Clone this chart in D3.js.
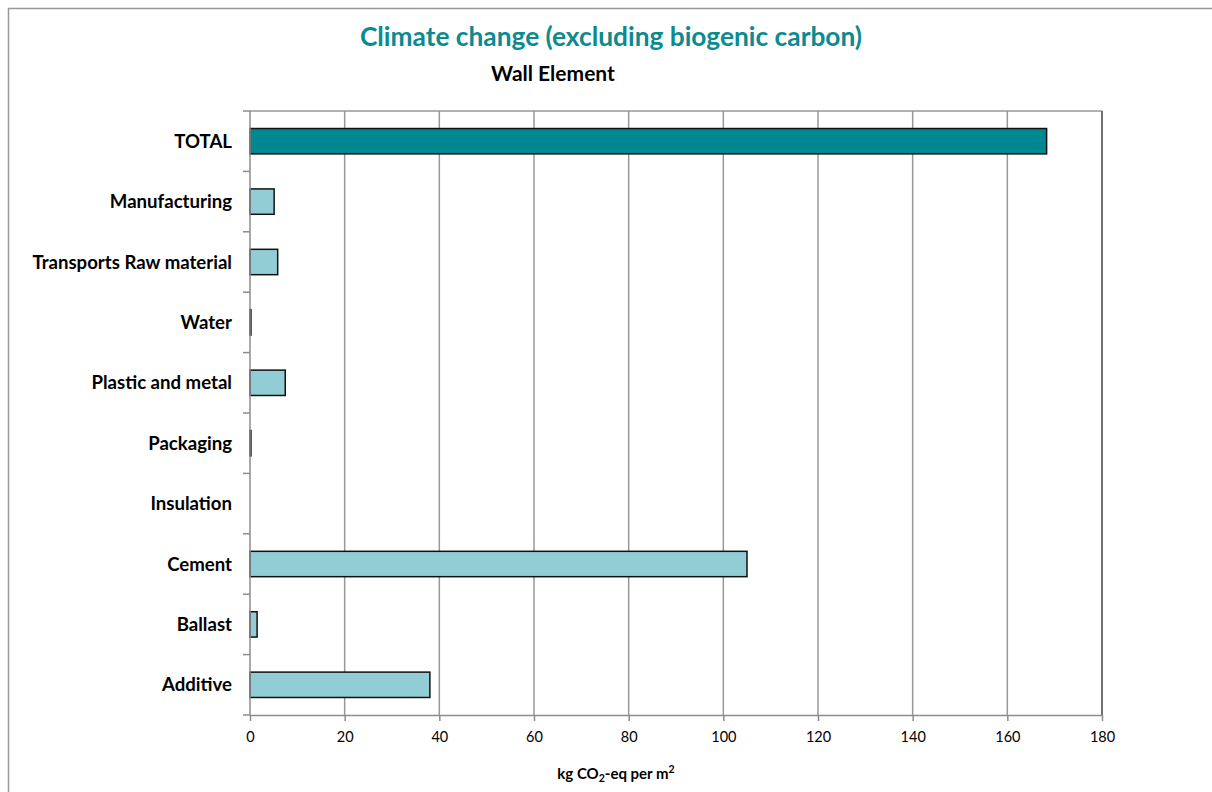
<html>
<head>
<meta charset="utf-8">
<title>Climate change (excluding biogenic carbon)</title>
<script src="https://d3js.org/d3.v7.min.js"></script>
<style>
  body { margin: 0; background: #fff; }
  text { font-family: Lato, "Open Sans", sans-serif; }
  .grid line { stroke: #999; stroke-width: 1.5; }
  .axis path, .axis line { stroke: #8c8c8c; stroke-width: 1.5; }
  .axis text { fill: #000; }
</style>
</head>
<body>
<div id="chart"></div>
<script>
// data, top to bottom
var categories = ["TOTAL", "Manufacturing", "Transports Raw material", "Water",
  "Plastic and metal", "Packaging", "Insulation", "Cement", "Ballast", "Additive"];
var values = [168.3, 5.1, 5.85, 0.2, 7.45, 0.2, 0, 105, 1.5, 38.0];
var xTicks = [0, 20, 40, 60, 80, 100, 120, 140, 160, 180];

var W = 1212, H = 792;
var margin = {top: 111, right: 110, bottom: 77, left: 250};
var width = W - margin.left - margin.right,
    height = H - margin.top - margin.bottom;

var svg = d3.select("#chart").append("svg")
    .attr("width", W).attr("height", H);

// outer chart border
svg.append("rect")
    .attr("x", 8.5).attr("y", 8.5)
    .attr("width", W).attr("height", H)
    .attr("fill", "none").attr("stroke", "#999").attr("stroke-width", 1.5);

svg.append("text")
    .attr("x", 611).attr("y", 46)
    .attr("text-anchor", "middle")
    .attr("font-size", 26.3).attr("font-weight", "bold")
    .attr("fill", "#0b8a91")
    .text("Climate change (excluding biogenic carbon)");

svg.append("text")
    .attr("x", 553).attr("y", 81)
    .attr("text-anchor", "middle")
    .attr("font-size", 21).attr("font-weight", "bold")
    .text("Wall Element");

var g = svg.append("g")
    .attr("transform", "translate(" + margin.left + "," + margin.top + ")");

var x = d3.scaleLinear().domain([0, 180]).range([0, width]);
var y = d3.scaleBand().domain(categories).range([0, height]).paddingInner(0.58).paddingOuter(0.29);
var yb = d3.scaleBand().domain(categories).range([0, height]);

// vertical gridlines
g.append("g").attr("class", "grid")
  .selectAll("line")
  .data(xTicks.slice(1))
  .enter().append("line")
    .attr("x1", function(d) { return x(d); })
    .attr("x2", function(d) { return x(d); })
    .attr("y1", 0).attr("y2", height);

// plot frame top/right
g.append("line").attr("x1", 0).attr("x2", width).attr("y1", 0).attr("y2", 0)
    .attr("stroke", "#999").attr("stroke-width", 1.5);
g.append("line").attr("x1", width).attr("x2", width).attr("y1", 0).attr("y2", height)
    .attr("stroke", "#6e6e6e").attr("stroke-width", 2);

// bars
g.selectAll(".bar")
  .data(categories)
  .enter().append("rect")
    .attr("class", "bar")
    .attr("x", 0)
    .attr("y", function(d) { return y(d); })
    .attr("width", function(d, i) { return x(values[i]); })
    .attr("height", y.bandwidth())
    .attr("fill", function(d, i) { return i === 0 ? "#008891" : "#92cdd6"; })
    .attr("stroke", "#111")
    .attr("stroke-width", 1.5);

// x axis
g.append("g")
    .attr("class", "axis")
    .attr("transform", "translate(0," + height + ")")
    .call(d3.axisBottom(x).tickValues(xTicks).tickSize(6).tickSizeOuter(0).tickPadding(11))
    .selectAll("text").attr("font-size", 14.5);

// y axis: ticks at band boundaries
var yAxis = g.append("g").attr("class", "axis");
yAxis.append("line").attr("x1", 0).attr("x2", 0).attr("y1", 0).attr("y2", height);
yAxis.selectAll(".tk")
  .data(categories)
  .enter().append("line")
    .attr("x1", -7).attr("x2", 0)
    .attr("y1", function(d) { return yb(d); })
    .attr("y2", function(d) { return yb(d); });
yAxis.append("line").attr("x1", -7).attr("x2", 0).attr("y1", height).attr("y2", height);
yAxis.selectAll(".lbl")
  .data(categories)
  .enter().append("text")
    .attr("x", -18)
    .attr("y", function(d) { return yb(d) + yb.bandwidth() / 2; })
    .attr("dy", "0.35em")
    .attr("text-anchor", "end")
    .attr("font-size", 18.6).attr("font-weight", "bold")
    .text(function(d) { return d; });

// x axis title
var t = svg.append("text")
    .attr("x", 616).attr("y", 779)
    .attr("text-anchor", "middle")
    .attr("font-size", 15).attr("font-weight", "bold");
t.append("tspan").text("kg CO");
t.append("tspan").attr("font-size", 10.5).attr("dy", 3).text("2");
t.append("tspan").attr("dy", -3).text("-eq per m");
t.append("tspan").attr("font-size", 10.5).attr("dy", -6).text("2");
</script>
</body>
</html>
